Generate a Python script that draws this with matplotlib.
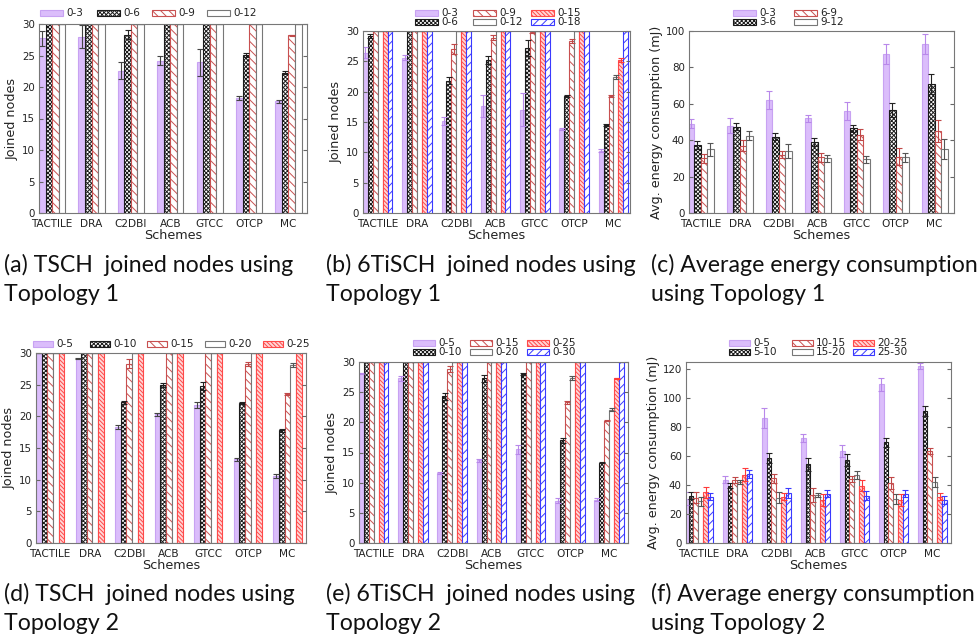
import matplotlib
matplotlib.use('Agg')
import matplotlib.pyplot as plt
from matplotlib.patches import Rectangle
import numpy as np

schemes = ['TACTILE', 'DRA', 'C2DBI', 'ACB', 'GTCC', 'OTCP', 'MC']

# (a) TSCH joined nodes, topology 1
a_labels = ['0-3', '0-6', '0-9', '0-12']
a_vals = [[27.7, 28.0, 22.6, 24.2, 23.9, 18.2, 17.7],
          [30, 30, 28.3, 30, 30, 25.1, 22.3],
          [30, 30, 30, 30, 30, 30, 28.2],
          [30, 30, 30, 30, 30, 30, 30]]
a_errs = [[1.2, 1.8, 1.3, 0.7, 2.2, 0.3, 0.3],
          [0, 0, 0.7, 0, 0, 0.3, 0.3],
          [0, 0, 0, 0, 0, 0, 0.1],
          [0, 0, 0, 0, 0, 0, 0]]

# (b) 6TiSCH joined nodes, topology 1
b_labels = ['0-3', '0-6', '0-9', '0-12', '0-15', '0-18']
b_vals = [[26.4, 25.6, 15.2, 17.7, 17.0, 13.8, 10.3],
          [29.2, 30, 21.8, 25.2, 27.2, 19.3, 14.5],
          [30, 30, 27.0, 28.9, 29.8, 28.3, 19.3],
          [30, 30, 30, 30, 30, 30, 22.4],
          [30, 30, 30, 30, 30, 30, 25.2],
          [30, 30, 30, 30, 30, 30, 30]]
b_errs = [[0.9, 0.4, 0.7, 1.8, 2.7, 0.2, 0.3],
          [0.3, 0, 0.6, 0.7, 1.3, 0.2, 0.1],
          [0, 0, 0.8, 0.4, 0.2, 0.3, 0.2],
          [0, 0, 0, 0, 0, 0, 0.3],
          [0, 0, 0, 0, 0, 0, 0.3],
          [0, 0, 0, 0, 0, 0, 0]]

# (c) energy, topology 1
c_labels = ['0-3', '3-6', '6-9', '9-12']
c_vals = [[49, 48, 62, 52, 56, 87.5, 93],
          [37.5, 47.5, 42, 39, 46.5, 56.5, 71],
          [30, 37, 32, 30.5, 43, 31, 45],
          [35, 42.5, 34, 30, 29.5, 30.5, 35]]
c_errs = [[2.5, 4, 5, 2, 5, 5.5, 5.5],
          [2.3, 2, 2, 2, 2, 4, 5.5],
          [2.5, 3, 2, 2.5, 3, 4.5, 6],
          [3.5, 2.5, 4, 2, 2, 2.5, 5.5]]

# (d) TSCH joined nodes, topology 2
d_labels = ['0-5', '0-10', '0-15', '0-20', '0-25']
d_vals = [[30, 29.1, 18.3, 20.3, 21.8, 13.2, 10.6],
          [30, 30, 22.2, 25.0, 24.8, 22.1, 17.8],
          [30, 30, 28.3, 30, 30, 28.3, 23.5],
          [30, 30, 30, 30, 30, 30, 28.1],
          [30, 30, 30, 30, 30, 30, 30]]
d_errs = [[0, 0.1, 0.3, 0.3, 0.5, 0.3, 0.3],
          [0, 0, 0.2, 0.3, 0.7, 0.1, 0.2],
          [0, 0, 0.7, 0, 0, 0.3, 0.2],
          [0, 0, 0, 0, 0, 0, 0.3],
          [0, 0, 0, 0, 0, 0, 0]]

# (e) 6TiSCH joined nodes, topology 2
e_labels = ['0-5', '0-10', '0-15', '0-20', '0-25', '0-30']
e_vals = [[28.1, 27.3, 11.6, 13.7, 15.5, 7.0, 7.2],
          [30, 30, 24.3, 27.3, 28.0, 17.0, 13.3],
          [30, 30, 28.8, 30, 30, 23.3, 20.3],
          [30, 30, 30, 30, 30, 27.3, 22.1],
          [30, 30, 30, 30, 30, 30, 27.3],
          [30, 30, 30, 30, 30, 30, 30]]
e_errs = [[0.1, 0.4, 0.1, 0.3, 0.8, 0.4, 0.3],
          [0, 0, 0.6, 0.6, 0.2, 0.4, 0.1],
          [0, 0, 0.5, 0, 0, 0.3, 0.1],
          [0, 0, 0, 0, 0, 0.3, 0.3],
          [0, 0, 0, 0, 0, 0, 0.1],
          [0, 0, 0, 0, 0, 0, 0]]

# (f) energy, topology 2
f_labels = ['0-5', '5-10', '10-15', '15-20', '20-25', '25-30']
f_vals = [[30.5, 43.6, 86.2, 72.5, 63.5, 109.6, 122],
          [32.8, 39.7, 58.5, 54.4, 57.3, 69.5, 91],
          [31.4, 43.6, 44.7, 33.3, 44, 41.3, 63.5],
          [28.7, 42, 31.4, 33.3, 47, 30.5, 42.4],
          [34.9, 47, 32.1, 29.8, 39.7, 29.8, 31.9],
          [32.1, 47.7, 34.4, 34, 32.6, 34, 29.8]]
f_errs = [[4.5, 2.5, 7, 3, 4, 4.5, 2],
          [2.5, 1.5, 3.5, 4.5, 4, 3, 3.5],
          [4, 2, 3, 5, 2, 4, 2],
          [3, 1.5, 3.5, 1.5, 3, 3.5, 3.5],
          [3.5, 4.5, 2.5, 4, 3.5, 4, 2.5],
          [2.5, 2.5, 3.5, 2.5, 3, 2.5, 3]]

captions = ['(a) TSCH  joined nodes using\nTopology 1',
            '(b) 6TiSCH  joined nodes using\nTopology 1',
            '(c) Average energy consumption\nusing Topology 1',
            '(d) TSCH  joined nodes using\nTopology 2',
            '(e) 6TiSCH  joined nodes using\nTopology 2',
            '(f) Average energy consumption\nusing Topology 2']

plt.rcParams['font.family'] = 'DejaVu Sans'
plt.rcParams['hatch.linewidth'] = 0.7

STYLES = {
    'purple': dict(facecolor='#dbbdfb', edgecolor='#c8a2f2', hatch=None),
    'checker': dict(facecolor='white', edgecolor='#1a1a1a', hatch='xxxxxxxx'),
    'hatch': dict(facecolor='white', edgecolor='#c85050', hatch='\\\\\\\\'),
    'white': dict(facecolor='white', edgecolor='#777777', hatch=None),
    'red': dict(facecolor='#ffd6d6', edgecolor='#ff4a4a', hatch='\\\\\\\\\\\\\\\\'),
    'blue': dict(facecolor='white', edgecolor='#3a3aff', hatch='////'),
}
ECOL = {'purple': '#b888ea', 'checker': '#222222', 'hatch': '#c04848',
        'white': '#555555', 'red': '#ff3a3a', 'blue': '#3a3aff'}

W, H = 980, 643
fig = plt.figure(figsize=(9.8, 6.43), dpi=100)


def add_axes(l, t, r, b):
    return fig.add_axes([l / W, 1 - b / H, (r - l) / W, (b - t) / H])


def legend(labels, styles, cols_x, rows_y, sw=23, sh=6):
    # gnuplot-like legend: fixed column grid, filled column by column
    nrows = len(rows_y)
    for k, (lab, sname) in enumerate(zip(labels, styles)):
        sx = cols_x[k // nrows]
        sy = rows_y[k % nrows]
        st = STYLES[sname]
        fig.add_artist(Rectangle((sx / W, 1 - (sy + sh / 2) / H), sw / W, sh / H,
                                 transform=fig.transFigure,
                                 facecolor=st['facecolor'], edgecolor=st['edgecolor'],
                                 hatch=st['hatch'], linewidth=0.8))
        fig.text((sx + sw + 3) / W, 1 - sy / H, lab, ha='left', va='center',
                 fontsize=7.5, color='#222222')


def panel(rect, labels, vals, errs, styles, xlim, ylim, yticks, ylabel,
          dark_purple_err=False):
    ax = add_axes(*rect)
    n = len(labels)
    w = 1.0 / (n + 2)
    xs = np.arange(len(schemes))
    for j in range(n):
        st = STYLES[styles[j]]
        x = xs + (j - (n - 1) / 2) * w
        ax.bar(x, vals[j], width=w, facecolor=st['facecolor'],
               edgecolor=st['edgecolor'], hatch=st['hatch'], linewidth=0.8)
        ec = ECOL[styles[j]]
        if styles[j] == 'purple' and dark_purple_err:
            ec = '#444444'
        ax.errorbar(x, vals[j], yerr=errs[j], fmt='none', ecolor=ec,
                    elinewidth=0.8, capsize=2, capthick=0.8)
    ax.set_xlim(*xlim)
    ax.set_ylim(*ylim)
    ax.set_yticks(yticks)
    ax.set_xticks(xs)
    ax.set_xticklabels(schemes)
    ax.tick_params(axis='x', length=0, labelsize=7.6, pad=4, colors='#222222')
    ax.tick_params(axis='y', direction='in', right=True, length=3,
                   labelsize=7.4, pad=3, color='#666666', labelcolor='#222222')
    for sp in ax.spines.values():
        sp.set_color('#777777')
        sp.set_linewidth(0.8)
    ax.set_xlabel('Schemes', fontsize=9.2, labelpad=0, color='#222222')
    ax.set_ylabel(ylabel, fontsize=9.2, labelpad=2, color='#222222')
    return ax


panel((39, 24, 307, 213), a_labels, a_vals, a_errs,
      ['purple', 'checker', 'hatch', 'white'], (-1 / 3, 6.47), (0, 30),
      [0, 5, 10, 15, 20, 25, 30], 'Joined nodes', dark_purple_err=True)
legend(a_labels, ['purple', 'checker', 'hatch', 'white'], [40, 97, 152, 207], [13])

panel((363, 31, 630, 213), b_labels, b_vals, b_errs,
      ['purple', 'checker', 'hatch', 'white', 'red', 'blue'], (-0.375, 6.42),
      (0, 30), [0, 5, 10, 15, 20, 25, 30], 'Joined nodes')
legend(b_labels, ['purple', 'checker', 'hatch', 'white', 'red', 'blue'],
       [415, 473, 531], [13.3, 21.7])

panel((689, 31, 954, 213), c_labels, c_vals, c_errs,
      ['purple', 'checker', 'hatch', 'white'], (-0.30, 6.5), (0, 100),
      [0, 20, 40, 60, 80, 100], 'Avg. energy consumption (mJ)')
legend(c_labels, ['purple', 'checker', 'hatch', 'white'], [733, 794], [13.3, 21.7])

panel((36, 353, 306, 543), d_labels, d_vals, d_errs,
      ['purple', 'checker', 'hatch', 'white', 'red'], (-0.357, 6.47), (0, 30),
      [0, 5, 10, 15, 20, 25, 30], 'Joined nodes', dark_purple_err=True)
legend(d_labels, ['purple', 'checker', 'hatch', 'white', 'red'],
       [33, 90, 147, 205, 263], [344], sw=20)

panel((359, 362, 628, 543), e_labels, e_vals, e_errs,
      ['purple', 'checker', 'hatch', 'white', 'red', 'blue'], (-0.375, 6.48),
      (0, 30), [0, 5, 10, 15, 20, 25, 30], 'Joined nodes')
legend(e_labels, ['purple', 'checker', 'hatch', 'white', 'red', 'blue'],
       [413, 470, 527], [343.3, 351.7], sw=22)

panel((686, 362, 951, 543), f_labels, f_vals, f_errs,
      ['purple', 'checker', 'hatch', 'white', 'red', 'blue'], (-0.315, 6.48),
      (0, 125), [0, 20, 40, 60, 80, 100, 120], 'Avg. energy consumption (mJ)')
legend(f_labels, ['purple', 'checker', 'hatch', 'white', 'red', 'blue'],
       [729, 792, 853], [343.3, 351.7], sw=21)

cap_pos = [(4, 254), (326, 254), (651, 254), (4, 583), (326, 583), (651, 583)]
for (cx, cy), txt in zip(cap_pos, captions):
    fig.text(cx / W, 1 - cy / H, txt, ha='left', va='top', fontsize=16.7,
             family=['Liberation Sans Narrow', 'Lato', 'DejaVu Sans'],
             linespacing=1.45, color='#111111')

fig.savefig('out.png', dpi=100)
